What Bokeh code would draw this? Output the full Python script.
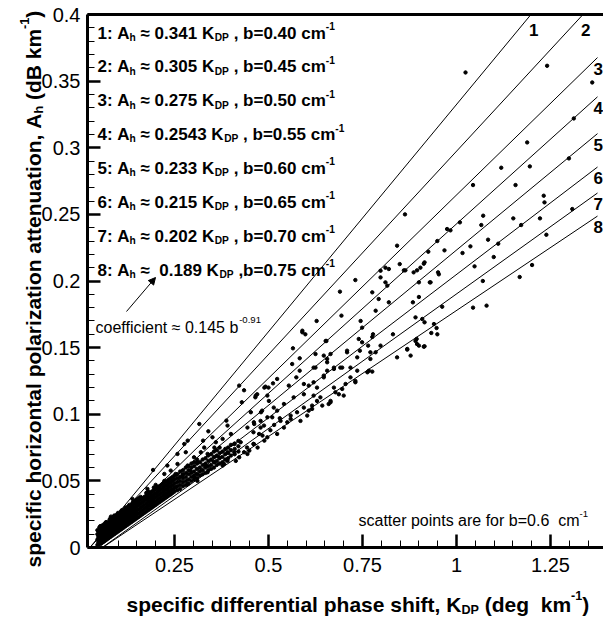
import math
from bokeh.plotting import figure
from bokeh.models import Label, FixedTicker, Arrow, NormalHead, NumeralTickFormatter, LinearAxis
from bokeh.embed import file_html
from bokeh.resources import INLINE

FONT = "Liberation Sans"

# ---------------- data ----------------
line_ids = ["1", "2", "3", "4", "5", "6", "7", "8"]
line_coef = [0.341, 0.305, 0.275, 0.2543, 0.233, 0.215, 0.202, 0.189]
line_x0 = [0.025, 0.025, 0.038, 0.045, 0.042, 0.047, 0.058, 0.059]
coef_text = ["0.341", "0.305", "0.275", "0.2543", "0.233", "0.215", "0.202", "0.189"]
b_text = ["0.40", "0.45", "0.50", "0.55", "0.60", "0.65", "0.70", "0.75"]
k_line_end = 1.375

x_ticks = [0.25, 0.5, 0.75, 1.0, 1.25]
y_ticks = [0, 0.05, 0.1, 0.15, 0.2, 0.25, 0.3, 0.35, 0.4]

# dense band of scatter points near the origin (K, list of A)
band_cols = [
    (0.045, [0.002, 0.006, 0.010, 0.013]),
    (0.050, [0.004, 0.008, 0.011, 0.012, 0.015]),
    (0.055, [0.003, 0.006, 0.009, 0.012, 0.016]),
    (0.060, [0.004, 0.007, 0.010, 0.013, 0.015, 0.017]),
    (0.065, [0.005, 0.008, 0.011, 0.014, 0.018]),
    (0.070, [0.006, 0.009, 0.012, 0.015, 0.017, 0.019]),
    (0.075, [0.007, 0.010, 0.013, 0.016, 0.018]),
    (0.080, [0.008, 0.011, 0.014, 0.017, 0.020, 0.022]),
    (0.085, [0.009, 0.012, 0.015, 0.018, 0.021]),
    (0.090, [0.010, 0.013, 0.016, 0.019, 0.022, 0.024]),
    (0.095, [0.011, 0.014, 0.017, 0.020, 0.023]),
    (0.100, [0.012, 0.015, 0.018, 0.021, 0.024, 0.026]),
    (0.105, [0.013, 0.016, 0.019, 0.022, 0.025]),
    (0.110, [0.014, 0.017, 0.020, 0.023, 0.026, 0.028]),
    (0.115, [0.015, 0.018, 0.021, 0.024, 0.027]),
    (0.120, [0.016, 0.019, 0.022, 0.025, 0.028, 0.030]),
    (0.125, [0.017, 0.020, 0.023, 0.026, 0.029]),
    (0.130, [0.018, 0.021, 0.024, 0.027, 0.030, 0.032]),
    (0.135, [0.019, 0.022, 0.025, 0.028, 0.031]),
    (0.140, [0.020, 0.023, 0.026, 0.029, 0.032, 0.034]),
    (0.150, [0.022, 0.025, 0.028, 0.031, 0.034, 0.036]),
    (0.160, [0.024, 0.027, 0.030, 0.033, 0.036, 0.038]),
    (0.170, [0.026, 0.029, 0.032, 0.035, 0.038]),
    (0.180, [0.028, 0.031, 0.034, 0.037, 0.040, 0.042]),
    (0.190, [0.030, 0.033, 0.036, 0.039, 0.042]),
    (0.200, [0.032, 0.035, 0.038, 0.041, 0.044, 0.047]),
    (0.210, [0.034, 0.037, 0.040, 0.043, 0.046]),
    (0.220, [0.036, 0.039, 0.042, 0.045, 0.048]),
    (0.230, [0.038, 0.041, 0.044, 0.047, 0.050]),
    (0.240, [0.040, 0.043, 0.046, 0.049, 0.052]),
    (0.250, [0.042, 0.045, 0.048, 0.051, 0.054]),
    (0.265, [0.044, 0.047, 0.050, 0.053, 0.057]),
    (0.280, [0.047, 0.050, 0.053, 0.056, 0.060]),
    (0.295, [0.050, 0.053, 0.056, 0.060, 0.063]),
    (0.310, [0.052, 0.055, 0.059, 0.063, 0.066]),
    (0.325, [0.055, 0.058, 0.062, 0.066]),
    (0.340, [0.058, 0.061, 0.065, 0.069]),
    (0.355, [0.060, 0.064, 0.068, 0.072]),
    (0.370, [0.063, 0.067, 0.071, 0.075]),
    (0.385, [0.066, 0.070, 0.074]),
    (0.400, [0.069, 0.073, 0.077]),
    (0.420, [0.072, 0.076, 0.080]),
]

band_cols_b = [
    (0.0475, [0.004, 0.008, 0.012]),
    (0.0525, [0.005, 0.009, 0.013, 0.016]),
    (0.0575, [0.005, 0.008, 0.011, 0.014]),
    (0.0625, [0.006, 0.009, 0.012, 0.016]),
    (0.0675, [0.007, 0.010, 0.013, 0.016, 0.019]),
    (0.0725, [0.008, 0.011, 0.014, 0.018]),
    (0.0775, [0.009, 0.012, 0.015, 0.019, 0.021]),
    (0.0825, [0.010, 0.013, 0.016, 0.019, 0.021]),
    (0.0875, [0.011, 0.014, 0.017, 0.020, 0.023]),
    (0.0925, [0.012, 0.015, 0.018, 0.021, 0.023]),
    (0.0975, [0.013, 0.016, 0.019, 0.022, 0.025]),
    (0.1025, [0.014, 0.017, 0.020, 0.023, 0.025]),
    (0.1075, [0.015, 0.018, 0.021, 0.024, 0.027]),
    (0.1125, [0.016, 0.019, 0.022, 0.025, 0.027]),
    (0.1175, [0.017, 0.020, 0.023, 0.026, 0.029]),
    (0.1225, [0.018, 0.021, 0.024, 0.027, 0.029]),
    (0.1275, [0.019, 0.022, 0.025, 0.028, 0.031]),
    (0.1325, [0.020, 0.023, 0.026, 0.029, 0.031]),
    (0.1375, [0.021, 0.024, 0.027, 0.030, 0.033]),
    (0.145, [0.021, 0.024, 0.027, 0.030, 0.033, 0.035]),
    (0.155, [0.023, 0.026, 0.029, 0.032, 0.035, 0.037]),
    (0.165, [0.025, 0.028, 0.031, 0.034, 0.037]),
    (0.175, [0.027, 0.030, 0.033, 0.036, 0.039, 0.041]),
    (0.185, [0.029, 0.032, 0.035, 0.038, 0.041]),
    (0.195, [0.031, 0.034, 0.037, 0.040, 0.043, 0.045]),
    (0.205, [0.033, 0.036, 0.039, 0.042, 0.045]),
    (0.215, [0.035, 0.038, 0.041, 0.044, 0.047]),
    (0.225, [0.037, 0.040, 0.043, 0.046, 0.049]),
    (0.235, [0.039, 0.042, 0.045, 0.048, 0.051]),
    (0.245, [0.041, 0.044, 0.047, 0.050, 0.053]),
    (0.2575, [0.043, 0.046, 0.049, 0.052, 0.055]),
    (0.2725, [0.046, 0.049, 0.052, 0.055, 0.058]),
    (0.2875, [0.048, 0.051, 0.055, 0.058, 0.061]),
    (0.3025, [0.051, 0.054, 0.057, 0.061, 0.064]),
    (0.3175, [0.054, 0.057, 0.060, 0.064]),
    (0.3325, [0.056, 0.060, 0.063, 0.067]),
    (0.3475, [0.059, 0.062, 0.066, 0.070]),
    (0.3625, [0.062, 0.065, 0.069, 0.073]),
    (0.3775, [0.064, 0.068, 0.072]),
    (0.3925, [0.067, 0.071, 0.075]),
    (0.410, [0.070, 0.074, 0.078]),
]

pts_low = [
    (0.422, 0.1215), (0.435, 0.118), (0.429, 0.109), (0.466, 0.114), (0.489, 0.120),
    (0.316, 0.0927), (0.340, 0.0872), (0.388, 0.0952), (0.391, 0.0915), (0.285, 0.0802),
    (0.276, 0.0777), (0.280, 0.0715), (0.326, 0.0802), (0.351, 0.0827), (0.360, 0.079),
    (0.378, 0.0815), (0.400, 0.0852), (0.409, 0.0777), (0.426, 0.079), (0.444, 0.090),
    (0.462, 0.0927), (0.480, 0.1015), (0.453, 0.1015), (0.475, 0.0852), (0.484, 0.084),
    (0.460, 0.0777), (0.449, 0.0727), (0.471, 0.075), (0.489, 0.0802), (0.435, 0.0715),
    (0.422, 0.0677), (0.409, 0.0715), (0.391, 0.0715), (0.382, 0.0627), (0.391, 0.065),
    (0.369, 0.0677), (0.338, 0.0702), (0.320, 0.0715), (0.193, 0.0582), (0.178, 0.044),
    (0.205, 0.0452), (0.138, 0.0365), (0.152, 0.034), (0.125, 0.0302), (0.081, 0.0232),
    (0.107, 0.0252), (0.258, 0.0702), (0.231, 0.0615), (0.223, 0.050), (0.253, 0.0552),
    (0.285, 0.0615), (0.311, 0.064), (0.271, 0.054), (0.293, 0.0577), (0.333, 0.0615),
    (0.356, 0.064), (0.253, 0.0452), (0.285, 0.0477), (0.311, 0.050), (0.240, 0.040),
    (0.444, 0.0702), (0.413, 0.065), (0.378, 0.0615), (0.338, 0.0565), (0.302, 0.0527),
    (0.356, 0.075), (0.329, 0.075), (0.302, 0.0677), (0.258, 0.0627), (0.240, 0.0577),
    (0.223, 0.0552), (0.523, 0.1027), (0.497, 0.0977), (0.479, 0.090), (0.460, 0.0865),
    (0.497, 0.0827), (0.523, 0.0852), (0.541, 0.090), (0.559, 0.099), (0.443, 0.075),
    (0.461, 0.0777), (0.505, 0.088), (0.515, 0.092), (0.530, 0.097),
]

pts_mid = [
    (0.842, 0.2265), (0.731, 0.2007), (0.690, 0.192), (0.628, 0.170), (0.694, 0.174),
    (0.590, 0.1627), (0.598, 0.160), (0.565, 0.1495), (0.583, 0.142), (0.563, 0.1377),
    (0.583, 0.1327), (0.574, 0.1277), (0.594, 0.1227), (0.554, 0.1215), (0.523, 0.1265),
    (0.512, 0.1232), (0.492, 0.1207), (0.500, 0.120), (0.470, 0.115), (0.497, 0.114),
    (0.465, 0.1127), (0.501, 0.110), (0.483, 0.1027), (0.514, 0.105), (0.541, 0.1077),
    (0.567, 0.1127), (0.594, 0.115), (0.620, 0.114), (0.638, 0.1127), (0.665, 0.109),
    (0.660, 0.1077), (0.643, 0.1065), (0.616, 0.1065), (0.607, 0.1027), (0.594, 0.105),
    (0.576, 0.1015), (0.585, 0.095), (0.559, 0.0965), (0.550, 0.094), (0.510, 0.0977),
    (0.479, 0.095), (0.461, 0.094), (0.488, 0.0915), (0.532, 0.095), (0.700, 0.114),
    (0.705, 0.1227), (0.718, 0.1277), (0.731, 0.124), (0.674, 0.120), (0.687, 0.115),
    (0.647, 0.1277), (0.656, 0.1327), (0.674, 0.135), (0.691, 0.135), (0.625, 0.135),
    (0.620, 0.124), (0.629, 0.120), (0.656, 0.1415), (0.665, 0.1452), (0.654, 0.155),
    (0.709, 0.1477), (0.736, 0.1427), (0.718, 0.135), (0.736, 0.1327), (0.740, 0.1565),
    (0.749, 0.154), (0.745, 0.170), (0.749, 0.165), (0.765, 0.1515), (0.776, 0.158),
    (0.778, 0.160), (0.785, 0.1465), (0.771, 0.1465), (0.771, 0.1415), (0.798, 0.1515),
    (0.763, 0.1315), (0.776, 0.132), (0.785, 0.1777), (0.776, 0.1915), (0.798, 0.2077),
    (0.811, 0.210), (0.820, 0.209), (0.798, 0.2027), (0.811, 0.199), (0.816, 0.1965),
    (0.793, 0.1865), (0.820, 0.184), (0.849, 0.2127), (0.860, 0.208), (0.864, 0.208),
    (0.886, 0.2065), (0.895, 0.208), (0.904, 0.210), (0.913, 0.213), (0.929, 0.199),
    (0.900, 0.199), (0.884, 0.184), (0.891, 0.1727), (0.909, 0.1715), (0.894, 0.1565),
    (0.900, 0.1515), (0.913, 0.1507), (0.869, 0.149), (0.678, 0.1165), (0.590, 0.1615),
    (0.767, 0.1327), (0.743, 0.1477), (0.709, 0.1465), (0.696, 0.135), (0.674, 0.134),
    (0.656, 0.139), (0.731, 0.125), (0.696, 0.119), (0.665, 0.110), (0.629, 0.110),
    (0.616, 0.104), (0.603, 0.099), (0.647, 0.129), (0.607, 0.1215), (0.620, 0.135),
    (0.647, 0.144), (0.625, 0.1452), (0.652, 0.155),
]

pts_high = [
    (1.024, 0.3565), (1.241, 0.3615), (1.361, 0.349), (1.312, 0.322), (1.188, 0.304),
    (1.299, 0.292), (1.119, 0.285), (1.195, 0.286), (1.157, 0.272), (1.044, 0.272),
    (1.232, 0.264), (1.234, 0.259), (1.308, 0.254), (1.071, 0.249), (1.066, 0.242),
    (1.151, 0.247), (1.172, 0.242), (1.222, 0.247), (1.239, 0.2347), (1.201, 0.212),
    (1.168, 0.203), (1.084, 0.231), (1.111, 0.228), (1.037, 0.226), (1.016, 0.221),
    (1.099, 0.218), (1.048, 0.211), (1.070, 0.200), (1.009, 0.244), (0.984, 0.238),
    (0.975, 0.239), (0.949, 0.230), (0.968, 0.223), (0.925, 0.222), (0.915, 0.214),
    (0.951, 0.2065), (0.953, 0.205), (0.931, 0.199), (0.900, 0.188), (0.863, 0.250),
    (0.962, 0.1807), (1.044, 0.180), (1.080, 0.1815), (0.915, 0.169), (0.940, 0.1677),
    (0.947, 0.1647), (0.933, 0.161), (0.949, 0.160), (0.891, 0.155), (0.895, 0.1527),
    (0.915, 0.151), (0.869, 0.1485), (0.842, 0.1427), (0.878, 0.144), (0.831, 0.160),
]

# ---------------- text width helper (Arial / Liberation Sans metrics) ----------------
W_REG = {' ': 278, '.': 278, ',': 278, ':': 278, '=': 584, '(': 333, ')': 333, '-': 333,
         '\u2248': 584, 'a': 556, 'b': 556, 'c': 500, 'd': 556, 'e': 556, 'f': 278, 'g': 556,
         'h': 556, 'i': 222, 'k': 500, 'l': 222, 'm': 833, 'n': 556, 'o': 556, 'p': 556,
         'r': 333, 's': 500, 't': 278, 'u': 556, 'z': 500, 'A': 667, 'B': 667, 'D': 722,
         'K': 667, 'P': 667}
W_BOLD = {' ': 278, '.': 278, ',': 278, ':': 333, '=': 584, '(': 333, ')': 333, '-': 333,
          '\u2248': 584, 'a': 556, 'b': 611, 'c': 556, 'd': 611, 'e': 556, 'f': 333, 'g': 611,
          'h': 611, 'i': 278, 'k': 556, 'l': 278, 'm': 889, 'n': 611, 'o': 611, 'p': 611,
          'r': 389, 's': 556, 't': 333, 'u': 611, 'z': 500, 'A': 722, 'B': 722, 'D': 722,
          'K': 722, 'P': 667}


def tw(s, size, bold):
    t = W_BOLD if bold else W_REG
    return sum(t.get(c, 556) for c in s) * size / 1000.0


def rich(fig, x, y, parts, size, bold, angle=0.0, sub_scale=0.6):
    off = 0.0
    for text, kind in parts:
        fs = size if kind == "n" else round(size * sub_scale, 1)
        if kind == "n":
            shift = 0.0
        elif kind == "sub":
            shift = -0.25 * size
        else:
            shift = 0.42 * size
        if angle == 0.0:
            xo, yo = off, shift
        else:
            xo, yo = -shift, off
        fig.add_layout(Label(x=x, y=y, x_offset=xo, y_offset=yo,
                             text=text.replace(" ", "\u00a0"),
                             text_font=FONT, text_font_size=f"{fs}px",
                             text_font_style="bold" if bold else "normal",
                             text_color="black", angle=angle,
                             text_baseline="alphabetic", text_align="left"))
        off += tw(text, fs, bold)


# pixel -> data helpers (reference pixel geometry: K=0 at px 80, 376 px per unit;
# A=0 at py 547, 1332.5 px per unit)
def kx(px):
    return (px - 80.0) / 376.0


def ay(py):
    return (547.0 - py) / 1332.5


W, H = 603, 618

p = figure(width=W, height=H, x_range=(kx(0), kx(W)), y_range=(ay(H), ay(0)),
           output_backend="svg", toolbar_location=None, min_border=0)
p.xgrid.visible = False
p.ygrid.visible = False
p.outline_line_color = None

minor_x = [round(0.05 * i, 2) for i in range(1, 28) if round(0.05 * i, 2) not in x_ticks]
minor_y = [round(0.01 * i, 2) for i in range(1, 41)]
p.xaxis.ticker = FixedTicker(ticks=x_ticks, minor_ticks=minor_x)
p.yaxis.ticker = FixedTicker(ticks=y_ticks, minor_ticks=minor_y)
p.xaxis.fixed_location = 0
p.yaxis.fixed_location = kx(87)
p.xaxis.bounds = (kx(87), kx(W + 2))
p.yaxis.bounds = (0, 0.4)
for ax in (p.xaxis, p.yaxis):
    ax.formatter = NumeralTickFormatter(format="0.[00]")
    ax.axis_line_width = 3
    ax.axis_line_color = "black"
    ax.major_tick_line_width = 2.5
    ax.major_tick_line_color = "black"
    ax.minor_tick_line_width = 1
    ax.minor_tick_line_color = "black"
    ax.major_tick_in = 13
    ax.major_tick_out = 0
    ax.minor_tick_in = 7
    ax.minor_tick_out = 0
    ax.major_label_text_font = FONT
    ax.major_label_text_font_size = "20px"
    ax.major_label_text_color = "black"
p.yaxis.major_label_standoff = 7
p.xaxis.major_label_standoff = 10

# top border of the plotting box
top_axis = LinearAxis(fixed_location=0.4, bounds=(kx(87), kx(W + 2)),
                      ticker=FixedTicker(ticks=[]), axis_line_width=3, axis_line_color="black",
                      major_tick_in=0, major_tick_out=0, minor_tick_in=0, minor_tick_out=0,
                      major_label_text_font_size="0px")
p.add_layout(top_axis, "above")

# fit lines
for lid, a, x0 in zip(line_ids, line_coef, line_x0):
    k1 = min(k_line_end, x0 + 0.4 / a)
    a1 = a * (k1 - x0)
    p.line([x0, k1], [0, a1], line_color="black", line_width=1)
    top = a1 >= 0.3999
    p.add_layout(Label(x=k1, y=a1, x_offset=-2 if top else -4, y_offset=-15 if top else -11,
                       text=lid, text_font=FONT, text_font_size="17px", text_font_style="bold",
                       text_color="black", text_baseline="alphabetic"))

# scatter points
sk, sa = [], []
for cols in (band_cols, band_cols_b):
    for k, alist in cols:
        for a in alist:
            sk.append(k)
            sa.append(a)
for group in (pts_low, pts_mid, pts_high):
    for k, a in group:
        sk.append(k)
        sa.append(a)
p.scatter(sk, sa, size=3.4, marker="circle", color="black")

# legend rows
for i, (lid, ct, bt) in enumerate(zip(line_ids, coef_text, b_text)):
    yrow = ay(32.5 + 33.9 * i)
    if lid == "8":
        mid = " \u2248  " + ct + " K"
        tail = " ,b=" + bt + " cm"
    else:
        mid = " \u2248 " + ct + " K"
        tail = " , b=" + bt + " cm"
    rich(p, kx(97), yrow,
         [(lid + ": A", "n"), ("h", "sub"), (mid, "n"), ("DP", "sub"), (tail, "n"), ("-1", "sup")],
         17, True)

# coefficient note and arrow
rich(p, kx(95), ay(326.5), [("coefficient \u2248 0.145 b", "n"), ("-0.91", "sup")], 16, False)
p.add_layout(Arrow(end=NormalHead(size=7, fill_color="black", line_color="black", line_width=1),
                   x_start=kx(126), y_start=ay(311), x_end=kx(155), y_end=ay(277),
                   line_color="black", line_width=1))

rich(p, kx(358), ay(520), [("scatter points are for b=0.6  cm", "n"), ("-1", "sup")], 16, False)

# axis titles
rich(p, kx(126), ay(604),
     [("specific differential phase shift, K", "n"), ("DP", "sub"), (" (deg  km", "n"),
      ("-1", "sup"), (")", "n")], 21, True)
rich(p, kx(33), ay(567),
     [("specific horizontal polarization attenuation, A", "n"), ("h", "sub"), (" (dB km", "n"),
      ("-1", "sup"), (")", "n")], 21, True, angle=math.pi / 2)

open("out.html", "w").write(file_html(p, INLINE))
